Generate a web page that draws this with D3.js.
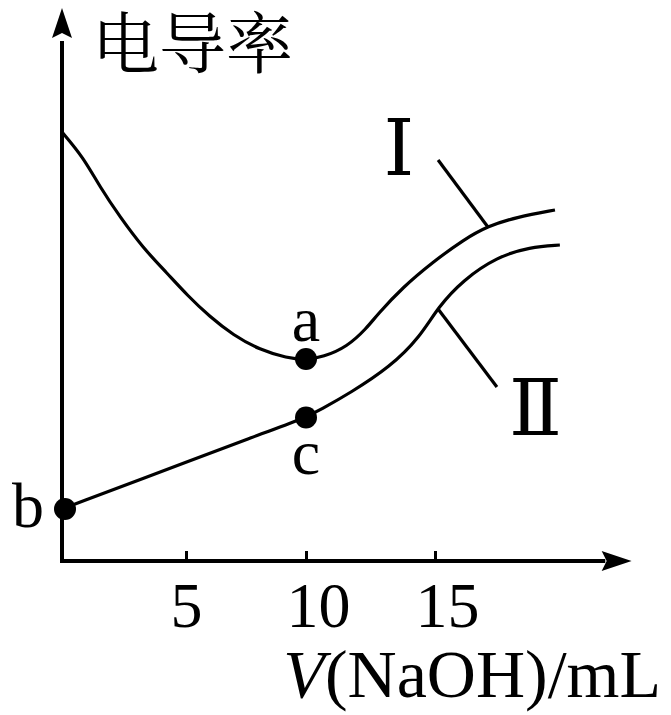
<!DOCTYPE html>
<html>
<head>
<meta charset="utf-8">
<script src="https://cdn.jsdelivr.net/npm/d3@7"></script>
<style>
  body{margin:0;background:#fff;}
  text{fill:#000;}
</style>
</head>
<body>
<div id="graph"></div>
<script>
// size of window
var width=671, height=715;

// data (x = V(NaOH)/mL, y = conductivity, arbitrary units)
var curve1_x=[0,0.85,1.53,2.34,3.27,4.23,5.04,6.0,6.96,8.08,9.21,10,10.66,11.59,12.36,12.75,13.76,14.92,16.09,17.05,18.18,19.65];
var curve1_y=[85.8,80.8,74.8,68.8,62.6,57.6,53.2,48.8,45.2,42.2,40.6,40.2,40.8,42.8,46.6,49.2,54.8,59.8,64.2,67.0,68.8,70.2];
var curve2_x=[0,5.58,7.67,10,10.54,11.71,13.26,14.42,15.12,16.09,17.4,18.68,19.84];
var curve2_y=[10.4,20.8,24.6,28.7,30.2,33.6,38.8,44.8,50.8,56.2,60.8,62.8,63.2];
var tick_vals=[5,10,15];
var pt_names=["a","b","c"];
var pt_x=[10,0,10];
var pt_y=[40.4,10.4,28.7];
var curve_names=["Ⅰ","Ⅱ"];

// hand drawn axis, ticks are not evenly spaced
var x=d3.scaleLinear().domain([0,5,10,15]).range([62,186,306,435]);
var y=d3.scaleLinear().domain([0,100]).range([561,61]);

var svg=d3.select("#graph").append("svg")
  .attr("width",width)
  .attr("height",height);

var serif='"Liberation Serif","DejaVu Serif",serif';

//axes
svg.append("line")
  .attr("x1",x(0)).attr("y1",y(0)+2)
  .attr("x2",x(0)).attr("y2",y(104))
  .attr("stroke","#000").attr("stroke-width",4);
svg.append("path")
  .attr("d","M"+x(0)+","+y(110.6)+"L"+(x(0)-10)+","+y(104.6)+"L"+x(0)+","+y(105.6)+"L"+(x(0)+10)+","+y(104.6)+"Z")
  .attr("fill","#000");

svg.append("line")
  .attr("x1",x(0)-2).attr("y1",y(0))
  .attr("x2",x(21.6)).attr("y2",y(0))
  .attr("stroke","#000").attr("stroke-width",4);
var tipx=x(22.62), backx=x(21.46);
svg.append("path")
  .attr("d","M"+tipx+","+y(0)+"L"+backx+","+(y(0)-10)+"L"+(backx+5)+","+y(0)+"L"+backx+","+(y(0)+10)+"Z")
  .attr("fill","#000");

var xAxis=svg.append("g")
  .attr("transform","translate(0,"+y(0)+")")
  .call(d3.axisBottom(x).tickValues(tick_vals).tickSize(-10).tickPadding(66));
xAxis.select(".domain").remove();
xAxis.selectAll(".tick line").attr("stroke","#000").attr("stroke-width",3);
xAxis.selectAll(".tick text")
  .attr("dy",0)
  .attr("dx",function(d){return d>=10?12:0;})
  .style("font-family",serif)
  .style("font-size","64px")
  .attr("fill","#000");

// y title
svg.append("text")
  .attr("x",92)
  .attr("y",68)
  .style("font-family",'"Noto Serif CJK SC","Noto Sans CJK SC",sans-serif')
  .style("font-size","67px")
  .text("电导率");

// x title
var xt=svg.append("text")
  .attr("x",661)
  .attr("y",697)
  .attr("text-anchor","end")
  .style("font-family",serif)
  .style("font-size","68px");
xt.append("tspan").style("font-style","italic").text("V");
xt.append("tspan").text("(NaOH)/mL");

var line=d3.line()
  .x(function(d){return x(d[0]);})
  .y(function(d){return y(d[1]);})
  .curve(d3.curveBasis);

var curves=[d3.zip(curve1_x,curve1_y),d3.zip(curve2_x,curve2_y)];
svg.selectAll("path.curve")
  .data(curves)
  .enter()
  .append("path")
  .attr("class","curve")
  .attr("d",line)
  .attr("fill","none")
  .attr("stroke","#000")
  .attr("stroke-width",3.2)
  .attr("stroke-linejoin","round");

// leader lines for curve names
var lead_x1=[15.12,15.12], lead_y1=[80.2,50.4], lead_x2=[17.05,17.4], lead_y2=[66.8,34.8];
svg.selectAll("line.lead")
  .data(curve_names)
  .enter()
  .append("line")
  .attr("class","lead")
  .attr("x1",function(d,i){return x(lead_x1[i]);})
  .attr("y1",function(d,i){return y(lead_y1[i]);})
  .attr("x2",function(d,i){return x(lead_x2[i]);})
  .attr("y2",function(d,i){return y(lead_y2[i]);})
  .attr("stroke","#000")
  .attr("stroke-width",3.2);

var name_x=[13.6,18.9], name_y=[77.2,25.2];
svg.selectAll("text.cname")
  .data(curve_names)
  .enter()
  .append("text")
  .attr("class","cname")
  .attr("x",function(d,i){return x(name_x[i]);})
  .attr("y",function(d,i){return y(name_y[i]);})
  .attr("text-anchor","middle")
  .style("font-family",serif)
  .style("font-size","78px")
  .text(function(d){return d;});

//points
svg.selectAll("circle")
  .data(pt_names)
  .enter()
  .append("circle")
  .attr("cx",function(d,i){return x(pt_x[i])+(i==1?3:0);})
  .attr("cy",function(d,i){return y(pt_y[i]);})
  .attr("r",11)
  .attr("fill","#000");

var lab_dx=[0,-18,0], lab_dy=[-18,18,56];
svg.selectAll("text.pt")
  .data(pt_names)
  .enter()
  .append("text")
  .attr("class","pt")
  .attr("x",function(d,i){return x(pt_x[i])+lab_dx[i];})
  .attr("y",function(d,i){return y(pt_y[i])+lab_dy[i];})
  .attr("text-anchor",function(d,i){return i==1?"end":"middle";})
  .style("font-family",serif)
  .style("font-size","64px")
  .text(function(d){return d;});
</script>
</body>
</html>
